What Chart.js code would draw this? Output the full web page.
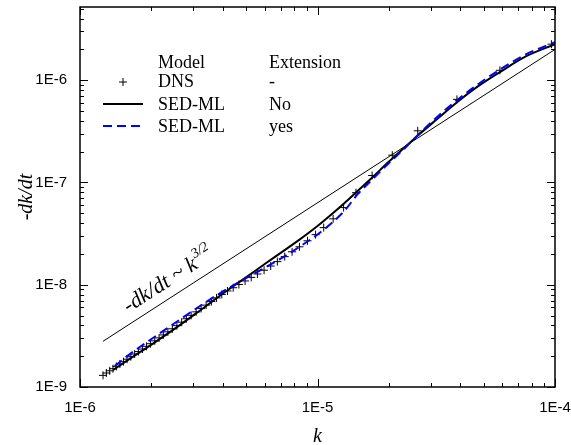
<!DOCTYPE html>
<html>
<head>
<meta charset="utf-8">
<script src="https://cdn.jsdelivr.net/npm/chart.js@4.4.1/dist/chart.umd.min.js"></script>
<style>
  html, body { margin: 0; padding: 0; background: #fff; }
  #wrap { width: 571px; height: 445px; }
</style>
</head>
<body>
<div id="wrap"><canvas id="chart" width="571" height="445"></canvas></div>
<script>
// DNS data (k, -dk/dt)
const dnsK = [
    1.250e-6, 1.291e-6, 1.334e-6, 1.377e-6, 1.422e-6, 1.472e-6, 1.524e-6, 1.578e-6, 1.637e-6, 1.698e-6,
    1.762e-6, 1.832e-6, 1.905e-6, 1.982e-6, 2.065e-6, 2.153e-6, 2.244e-6, 2.344e-6, 2.449e-6, 2.559e-6,
    2.679e-6, 2.805e-6, 2.938e-6, 3.083e-6, 3.236e-6, 3.396e-6, 3.573e-6, 3.758e-6, 3.954e-6, 4.178e-6,
    4.416e-6, 4.667e-6, 4.955e-6, 5.260e-6, 5.585e-6, 5.957e-6, 6.353e-6, 6.776e-6, 7.278e-6, 7.816e-6,
    8.395e-6, 9.078e-6, 9.817e-6, 1.062e-5, 1.164e-5, 1.288e-5, 1.452e-5, 1.698e-5, 2.065e-5, 2.642e-5,
    3.864e-5, 5.861e-5, 9.66e-5
];
const dnsRate = [
    1.30e-9, 1.37e-9, 1.44e-9, 1.51e-9, 1.59e-9, 1.68e-9, 1.77e-9, 1.87e-9, 1.98e-9, 2.10e-9,
    2.22e-9, 2.35e-9, 2.50e-9, 2.65e-9, 2.83e-9, 3.02e-9, 3.23e-9, 3.46e-9, 3.71e-9, 3.98e-9,
    4.30e-9, 4.65e-9, 5.02e-9, 5.43e-9, 5.86e-9, 6.32e-9, 6.85e-9, 7.43e-9, 8.04e-9, 8.69e-9,
    9.35e-9, 1.005e-8, 1.089e-8, 1.18e-8, 1.274e-8, 1.387e-8, 1.524e-8, 1.683e-8, 1.884e-8, 2.099e-8,
    2.35e-8, 2.69e-8, 3.09e-8, 3.62e-8, 4.41e-8, 5.68e-8, 7.94e-8, 1.17e-7, 1.85e-7, 3.2e-7,
    6.5e-7, 1.25e-6, 2.25e-6
];

// SED-ML, no extension
const sedK = [
    1.38e-6, 1.6e-6, 2.0e-6, 2.5e-6, 3.2e-6, 4.0e-6, 5.0e-6, 6.1e-6, 7.0e-6, 8.4e-6,
    1.0e-5, 1.16e-5, 1.3e-5, 1.47e-5, 1.7e-5, 2.0e-5, 2.3e-5, 2.7e-5, 3.2e-5, 3.87e-5,
    4.7e-5, 5.86e-5, 7.5e-5, 1.0e-4
];
const sedRate = [
    1.47e-9, 1.85e-9, 2.6e-9, 3.7e-9, 5.6e-9, 8.2e-9, 1.18e-8, 1.64e-8, 2.05e-8, 2.76e-8,
    3.75e-8, 5.0e-8, 6.3e-8, 8.2e-8, 1.12e-7, 1.6e-7, 2.15e-7, 3.0e-7, 4.2e-7, 6.1e-7,
    8.6e-7, 1.2e-6, 1.7e-6, 2.25e-6
];

// SED-ML with extension
const extK = [
    1.4e-6, 1.6e-6, 2.0e-6, 2.5e-6, 3.2e-6, 4.0e-6, 5.0e-6, 6.1e-6, 7.0e-6, 8.4e-6,
    1.0e-5, 1.16e-5, 1.3e-5, 1.47e-5, 1.7e-5, 2.0e-5, 2.3e-5, 2.7e-5, 3.2e-5, 3.87e-5,
    4.7e-5, 5.86e-5, 7.5e-5, 1.0e-4
];
const extRate = [
    1.6e-9, 2.05e-9, 2.95e-9, 4.2e-9, 6.2e-9, 8.6e-9, 1.16e-8, 1.5e-8, 1.8e-8, 2.35e-8,
    3.1e-8, 4.1e-8, 5.3e-8, 7.6e-8, 1.07e-7, 1.55e-7, 2.1e-7, 3.05e-7, 4.4e-7, 6.4e-7,
    9.0e-7, 1.27e-6, 1.78e-6, 2.35e-6
];

// k^(3/2) guide line
const slopeK = [1.25e-6, 1.0e-4];
const slopeRate = [2.8e-9, 2.0e-6];
const slopeLabelAt = [1.6e-6, 5.3e-9];

const xTicks = [1e-6, 1e-5, 1e-4];
const xTickLabels = ['1E-6', '1E-5', '1E-4'];
const yTicks = [1e-9, 1e-8, 1e-7, 1e-6];
const yTickLabels = ['1E-9', '1E-8', '1E-7', '1E-6'];
const xRange = [1e-6, 1e-4];
const yRange = [1e-9, 5.2e-6];

const legendHeader = ['Model', 'Extension'];
const legendModel = ['DNS', 'SED-ML', 'SED-ML'];
const legendExt = ['-', 'No', 'yes'];

const toPts = (xs, ys) => xs.map((v, i) => ({ x: v, y: ys[i] }));

const frameTicks = {
    id: 'frameTicks',
    afterDraw(chart) {
        const { ctx, chartArea: a, scales: { x, y } } = chart;
        const minor = [2, 3, 4, 5, 6, 7, 8, 9];
        ctx.save();
        ctx.strokeStyle = '#000';
        ctx.lineWidth = 1;
        const line = (x1, y1, x2, y2) => {
            ctx.beginPath(); ctx.moveTo(x1, y1); ctx.lineTo(x2, y2); ctx.stroke();
        };
        xTicks.forEach((d, i) => {
            const px = Math.round(x.getPixelForValue(d)) + 0.5;
            line(px, a.bottom, px, a.bottom - 8);
            line(px, a.top, px, a.top + 8);
            if (i < xTicks.length - 1) {
                minor.forEach(m => {
                    const mx = Math.round(x.getPixelForValue(m * d)) + 0.5;
                    line(mx, a.bottom, mx, a.bottom - 4);
                    line(mx, a.top, mx, a.top + 4);
                });
            }
        });
        yTicks.forEach(d => {
            const py = Math.round(y.getPixelForValue(d)) + 0.5;
            line(a.left, py, a.left + 8, py);
            line(a.right, py, a.right - 8, py);
            minor.forEach(m => {
                if (m * d > yRange[1]) return;
                const my = Math.round(y.getPixelForValue(m * d)) + 0.5;
                line(a.left, my, a.left + 4, my);
                line(a.right, my, a.right - 4, my);
            });
        });
        ctx.lineWidth = 1.5;
        ctx.strokeRect(a.left, a.top, a.right - a.left, a.bottom - a.top);

        // slope annotation along the guide line
        const x0 = x.getPixelForValue(slopeK[0]), y0 = y.getPixelForValue(slopeRate[0]);
        const x1 = x.getPixelForValue(slopeK[1]), y1 = y.getPixelForValue(slopeRate[1]);
        const ang = Math.atan2(y1 - y0, x1 - x0);
        ctx.translate(x.getPixelForValue(slopeLabelAt[0]), y.getPixelForValue(slopeLabelAt[1]));
        ctx.rotate(ang);
        ctx.fillStyle = '#000';
        ctx.textBaseline = 'alphabetic';
        ctx.textAlign = 'left';
        ctx.font = 'italic 22px "Liberation Serif"';
        const main = '-dk/dt ~ k';
        ctx.fillText(main, 0, 0);
        const w = ctx.measureText(main).width;
        ctx.font = 'italic 14px "Liberation Serif"';
        ctx.fillText('3/2', w + 1, -10);
        ctx.restore();

        // legend
        ctx.save();
        ctx.fillStyle = '#000';
        ctx.font = '18px "Liberation Serif"';
        ctx.textBaseline = 'middle';
        ctx.textAlign = 'left';
        const rows = [82, 105, 127];
        ctx.fillText(legendHeader[0], 158, 63);
        ctx.fillText(legendHeader[1], 269, 63);
        legendModel.forEach((t, i) => {
            ctx.fillText(t, 158, rows[i]);
            ctx.fillText(legendExt[i], 269, rows[i]);
        });
        ctx.strokeStyle = '#000';
        ctx.lineWidth = 1;
        line(119, rows[0], 127, rows[0]);
        line(123, rows[0] - 4, 123, rows[0] + 4);
        ctx.lineWidth = 2;
        line(103, rows[1] - 1, 143, rows[1] - 1);
        ctx.strokeStyle = '#0000ff';
        ctx.setLineDash([9, 5]);
        line(103, rows[2] - 1, 143, rows[2] - 1);
        ctx.restore();
    }
};

new Chart(document.getElementById('chart'), {
    type: 'scatter',
    data: {
        datasets: [
            {
                label: 'SED-ML yes', data: toPts(extK, extRate), showLine: true,
                borderColor: '#0000ff', borderWidth: 2, borderDash: [9, 5],
                pointRadius: 0, cubicInterpolationMode: 'monotone'
            },
            {
                label: 'DNS', data: toPts(dnsK, dnsRate), showLine: false,
                pointStyle: 'cross', pointRadius: 4, borderColor: '#000', borderWidth: 1
            },
            {
                label: 'SED-ML No', data: toPts(sedK, sedRate), showLine: true,
                borderColor: '#000', borderWidth: 2, pointRadius: 0, cubicInterpolationMode: 'monotone'
            },
            {
                label: 'k^3/2', data: toPts(slopeK, slopeRate), showLine: true,
                borderColor: '#000', borderWidth: 1, pointRadius: 0
            }
        ]
    },
    options: {
        responsive: false,
        animation: false,
        devicePixelRatio: 1,
        layout: { padding: { left: 0, top: 7, right: 16, bottom: 0 } },
        plugins: { legend: { display: false }, tooltip: { enabled: false } },
        scales: {
            x: {
                type: 'logarithmic', min: xRange[0], max: xRange[1],
                grid: { display: false, drawTicks: false }, border: { display: false },
                afterBuildTicks: s => { s.ticks = xTicks.map(v => ({ value: v })); },
                afterFit: s => { s.height = 58; s.paddingLeft = 0; s.paddingRight = 0; },
                ticks: {
                    padding: 12, color: '#000', maxRotation: 0, autoSkip: false,
                    font: { family: 'Liberation Sans', size: 15 },
                    callback: (v, i) => xTickLabels[i]
                },
                title: {
                    display: true, text: 'k', color: '#000', padding: { top: 0, bottom: 0 },
                    font: { family: 'Liberation Serif', style: 'italic', size: 20, lineHeight: 0.8 }
                }
            },
            y: {
                type: 'logarithmic', min: yRange[0], max: yRange[1],
                grid: { display: false, drawTicks: false }, border: { display: false },
                afterBuildTicks: s => { s.ticks = yTicks.map(v => ({ value: v })); },
                afterFit: s => { s.width = 80; s.paddingTop = 0; s.paddingBottom = 0; },
                ticks: {
                    padding: 13, color: '#000', autoSkip: false,
                    font: { family: 'Liberation Sans', size: 15 },
                    callback: (v, i) => yTickLabels[i]
                },
                title: {
                    display: true, text: '-dk/dt', color: '#000', padding: { top: 19, bottom: 0 },
                    font: { family: 'Liberation Serif', style: 'italic', size: 20, lineHeight: 0.8 }
                }
            }
        }
    },
    plugins: [frameTicks]
});
</script>
</body>
</html>
